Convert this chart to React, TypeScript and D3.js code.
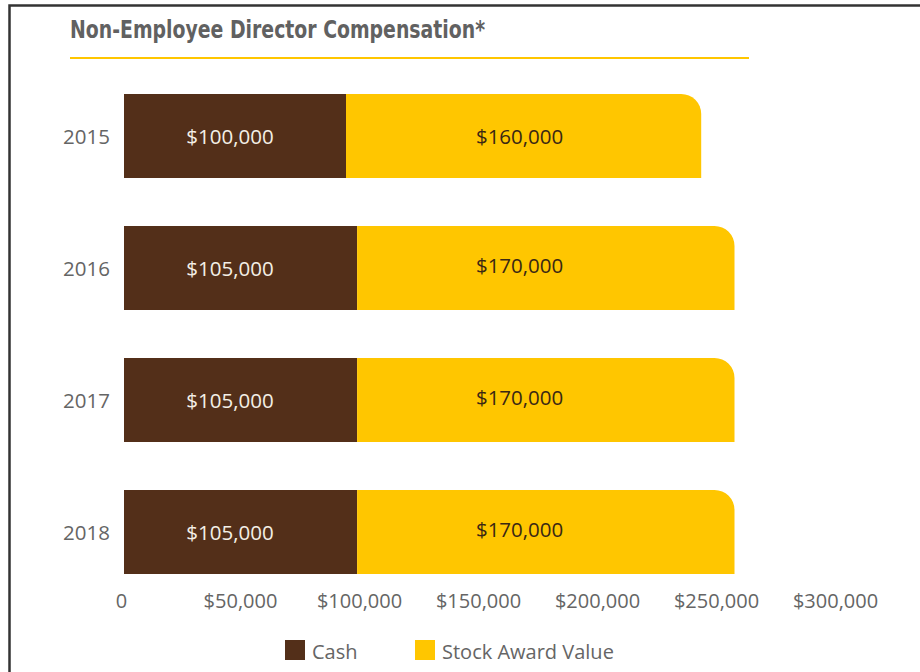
import { useRef, useEffect } from 'react';
import * as d3 from 'd3';

// Non-Employee Director Compensation, stacked horizontal bars
const years = ['2015', '2016', '2017', '2018'];
const cashValues = [100000, 105000, 105000, 105000];
const stockValues = [160000, 170000, 170000, 170000];
const tickValues = [0, 50000, 100000, 150000, 200000, 250000, 300000];
const seriesNames = ['Cash', 'Stock Award Value'];

const WIDTH = 920;
const HEIGHT = 672;
const BROWN = '#532f19';
const GOLD = '#ffc600';
const GREY = '#656565';
const FONT = '"Open Sans", "Noto Sans", sans-serif';
const TITLE_FONT = '"Liberation Sans Narrow", "DejaVu Sans Condensed", "Liberation Sans", sans-serif';

const fmtMoney = (v: number) => (v === 0 ? '0' : '$' + d3.format(',')(v));

export default function App() {
  const svgRef = useRef<SVGSVGElement>(null);

  useEffect(() => {
    const svg = d3.select(svgRef.current);
    svg.selectAll('*').remove();

    const rows = years.map((year, i) => ({ year, cash: cashValues[i], stock: stockValues[i] }));

    const x = d3.scaleLinear().domain([0, 300000]).range([124, 790]);
    // the tick labels in the original are spread a little wider than the bars
    const xLabels = d3.scaleLinear().domain([0, 300000]).range([121, 835]);
    const y = d3.scaleBand<string>()
      .domain(years)
      .range([70, 598])
      .paddingInner(48 / 132)
      .paddingOuter(24 / 132);
    const bw = y.bandwidth();
    const radius = 20;

    // frame (only top + left edges fall inside the picture)
    svg.append('path')
      .attr('d', 'M9.5,' + (HEIGHT + 10) + 'V5.5H' + (WIDTH + 10))
      .attr('fill', 'none')
      .attr('stroke', '#333333')
      .attr('stroke-width', 2.5);

    // title + rule
    svg.append('text')
      .attr('x', 70)
      .attr('y', 38)
      .attr('font-family', TITLE_FONT)
      .attr('font-weight', 'bold')
      .attr('font-size', 24.5)
      .attr('fill', '#616161')
      .attr('textLength', 415)
      .attr('lengthAdjust', 'spacingAndGlyphs')
      .text('Non-Employee Director Compensation*');

    svg.append('line')
      .attr('x1', 70).attr('x2', 749)
      .attr('y1', 58).attr('y2', 58)
      .attr('stroke', GOLD)
      .attr('stroke-width', 2.2);

    const g = svg.append('g');

    // cash segments
    g.selectAll('.cash')
      .data(rows)
      .join('rect')
      .attr('class', 'cash')
      .attr('x', x(0))
      .attr('y', d => y(d.year) as number)
      .attr('width', d => x(d.cash) - x(0))
      .attr('height', bw)
      .attr('fill', BROWN);

    // stock segments, top-right corner rounded
    g.selectAll('.stock')
      .data(rows)
      .join('path')
      .attr('class', 'stock')
      .attr('d', d => {
        const x0 = x(d.cash);
        const x1 = x(d.cash + d.stock);
        const y0 = y(d.year) as number;
        const y1 = y0 + bw;
        return 'M' + x0 + ',' + y0 + 'H' + (x1 - radius) +
          'A' + radius + ',' + radius + ' 0 0 1 ' + x1 + ',' + (y0 + radius) +
          'V' + y1 + 'H' + x0 + 'Z';
      })
      .attr('fill', GOLD);

    // year labels
    g.selectAll('.year')
      .data(rows)
      .join('text')
      .attr('class', 'year')
      .attr('x', 110)
      .attr('y', d => (y(d.year) as number) + bw / 2 + 7.5)
      .attr('text-anchor', 'end')
      .attr('font-family', FONT)
      .attr('font-size', 20.5)
      .attr('fill', GREY)
      .text(d => d.year);

    // value labels sit in the same columns for every row (first row's segment centres)
    const cashLabelX = x(cashValues[0] / 2);
    const stockLabelX = x(cashValues[0] + stockValues[0] / 2);

    g.selectAll('.cash-label')
      .data(rows)
      .join('text')
      .attr('class', 'cash-label')
      .attr('x', cashLabelX - 5)
      .attr('y', d => (y(d.year) as number) + bw / 2 + 7.5)
      .attr('text-anchor', 'middle')
      .attr('font-family', FONT)
      .attr('font-size', 20.5)
      .attr('fill', '#f4efe6')
      .text(d => fmtMoney(d.cash));

    g.selectAll('.stock-label')
      .data(rows)
      .join('text')
      .attr('class', 'stock-label')
      .attr('x', stockLabelX - 4)
      .attr('y', (d, i) => (y(d.year) as number) + bw / 2 + (i === 0 ? 7.5 : 5))
      .attr('text-anchor', 'middle')
      .attr('font-family', FONT)
      .attr('font-size', 20.5)
      .attr('fill', '#3a2814')
      .text(d => fmtMoney(d.stock));

    // x axis labels
    const axis = svg.append('g')
      .attr('transform', 'translate(0,608)')
      .call(d3.axisBottom(xLabels)
        .tickValues(tickValues)
        .tickSize(0)
        .tickPadding(0)
        .tickFormat(d => fmtMoney(d as number)));
    axis.select('.domain').remove();
    axis.selectAll('text')
      .attr('y', 0)
      .attr('dy', 0)
      .attr('font-family', FONT)
      .attr('font-size', 20)
      .attr('fill', GREY);

    // legend
    const legendX = [285, 415];
    const legendColors = [BROWN, GOLD];
    const legend = svg.append('g');
    legend.selectAll('rect')
      .data(seriesNames)
      .join('rect')
      .attr('x', (d, i) => legendX[i])
      .attr('y', 640)
      .attr('width', 20)
      .attr('height', 20)
      .attr('fill', (d, i) => legendColors[i]);
    legend.selectAll('text')
      .data(seriesNames)
      .join('text')
      .attr('x', (d, i) => legendX[i] + 27)
      .attr('y', 659)
      .attr('font-family', FONT)
      .attr('font-size', 20)
      .attr('fill', GREY)
      .text(d => d);
  }, []);

  return (
    <svg
      ref={svgRef}
      width={WIDTH}
      height={HEIGHT}
      style={{ position: 'absolute', left: 0, top: 0, display: 'block', background: '#ffffff' }}
      aria-label="Non-Employee Director Compensation"
    />
  );
}
